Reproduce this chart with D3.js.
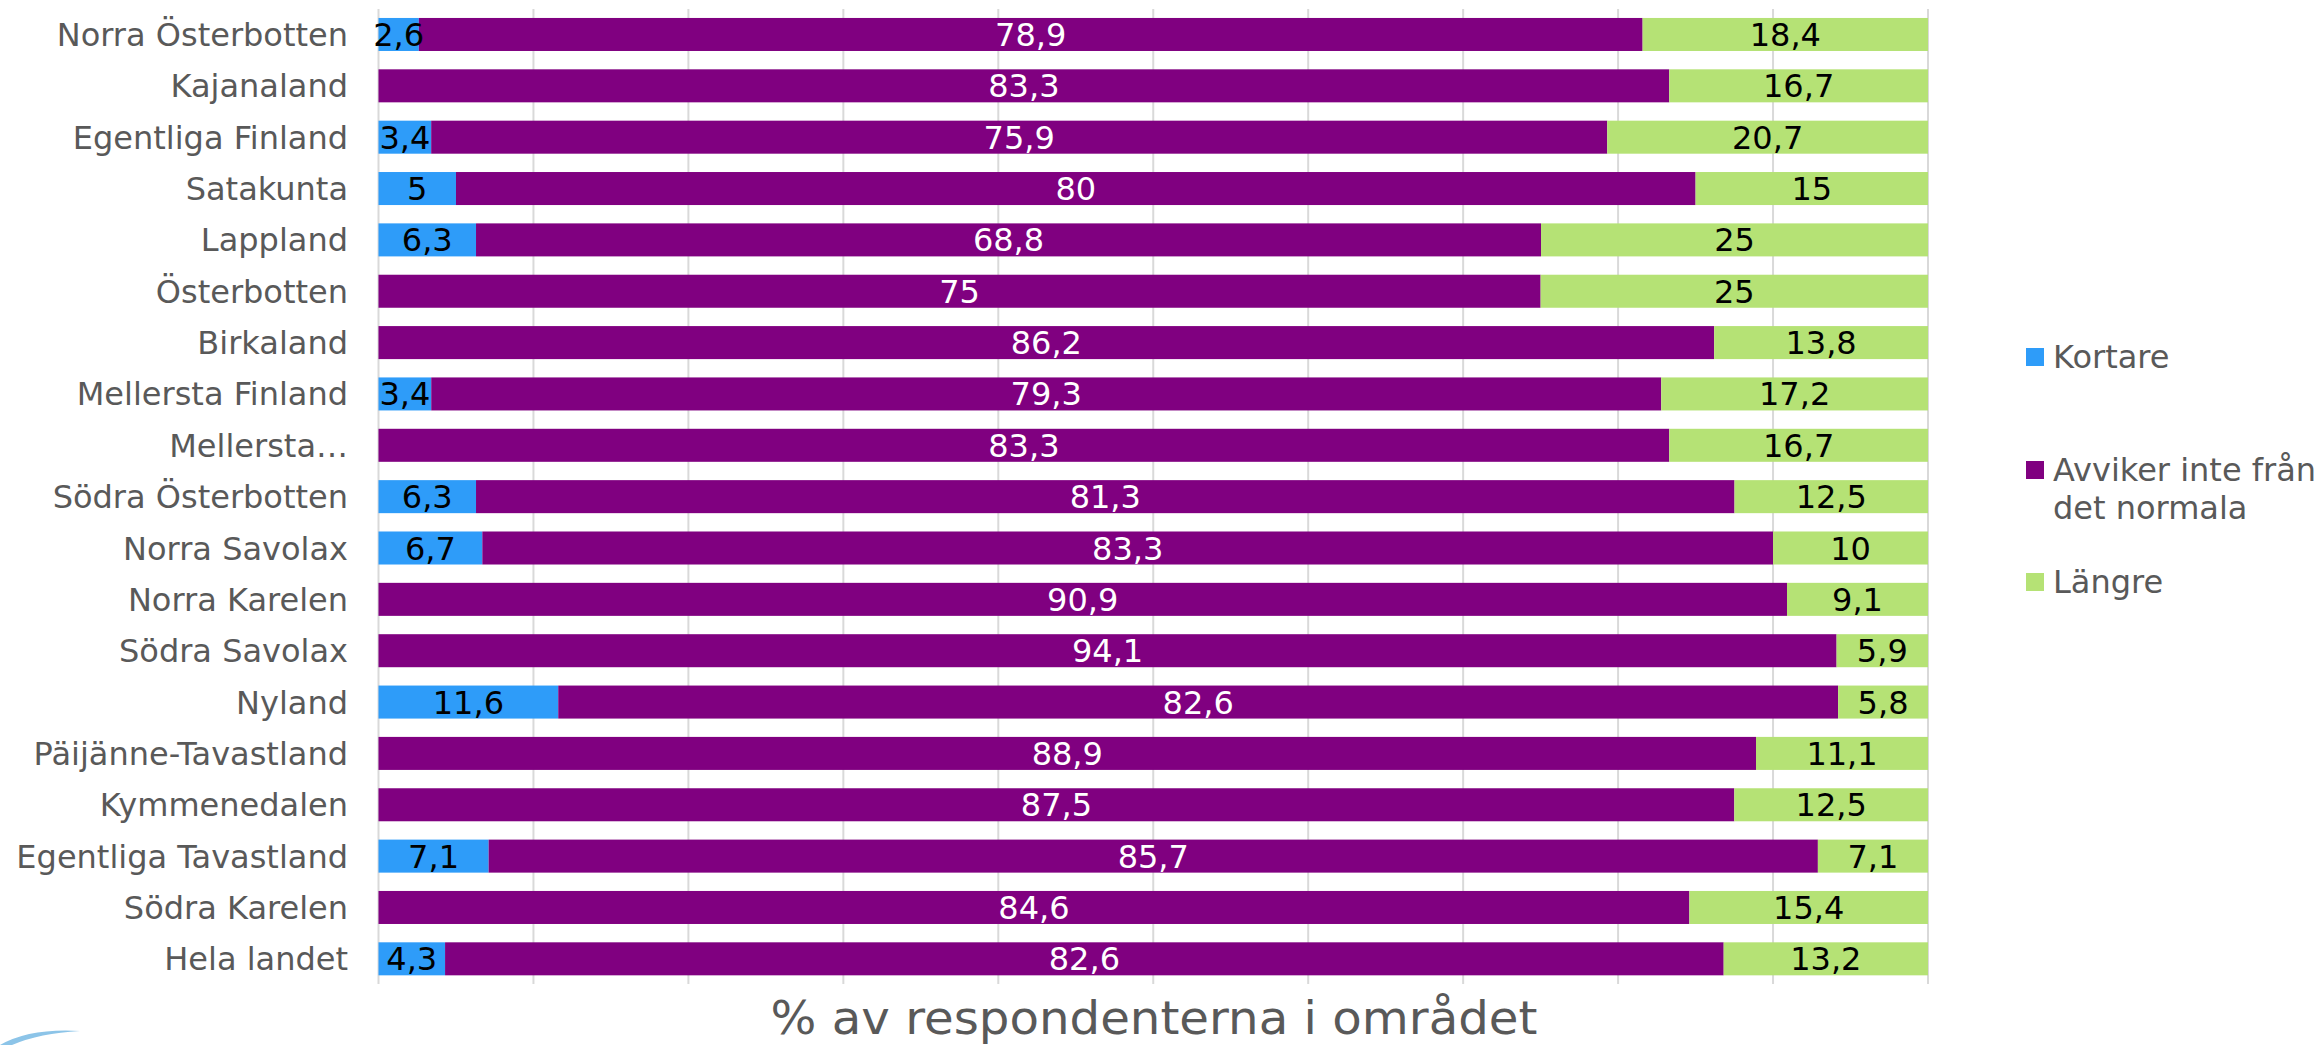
<!DOCTYPE html>
<html><head><meta charset="utf-8">
<script src="https://cdn.jsdelivr.net/npm/d3@7"></script>
<style>html,body{margin:0;padding:0;background:#fff;}svg{display:block;}</style>
</head><body>
<script>
const categories = ["Norra Österbotten","Kajanaland","Egentliga Finland","Satakunta","Lappland","Österbotten","Birkaland","Mellersta Finland","Mellersta…","Södra Österbotten","Norra Savolax","Norra Karelen","Södra Savolax","Nyland","Päijänne-Tavastland","Kymmenedalen","Egentliga Tavastland","Södra Karelen","Hela landet"];
const kortare = [2.6,0,3.4,5,6.3,0,0,3.4,0,6.3,6.7,0,0,11.6,0,0,7.1,0,4.3];
const avviker = [78.9,83.3,75.9,80,68.8,75,86.2,79.3,83.3,81.3,83.3,90.9,94.1,82.6,88.9,87.5,85.7,84.6,82.6];
const langre = [18.4,16.7,20.7,15,25,25,13.8,17.2,16.7,12.5,10,9.1,5.9,5.8,11.1,12.5,7.1,15.4,13.2];
const seriesNames = ["Kortare","Avviker inte från det normala","Längre"];
const xTicks = [0,10,20,30,40,50,60,70,80,90,100];
const axisTitle = "% av respondenterna i området";

const W = 2323, H = 1045;
const colors = ["#2e9cf9","#800080","#b5e275"];
const labelColors = ["#000","#fff","#000"];
const FONT = "'DejaVu Sans', Verdana, sans-serif";
const FS = 32;

const rows = categories.map((c,i)=>({cat:c, s0:kortare[i], s1:avviker[i], s2:langre[i]}));
const keys = ["s0","s1","s2"];
const stack = d3.stack().keys(keys).offset(d3.stackOffsetExpand)(rows);

const x = d3.scaleLinear().domain([0,1]).range([378.5,1928]);
const y = d3.scaleBand().domain(categories).range([8.8,984.5]).paddingInner(0.357).paddingOuter(0.1785);

const svg = d3.select("body").append("svg").attr("width",W).attr("height",H);

// gridlines
svg.append("g").selectAll("line").data(xTicks).join("line")
  .attr("x1",d=>x(d/100)).attr("x2",d=>x(d/100))
  .attr("y1",9).attr("y2",984)
  .attr("stroke","#d9d9d9").attr("stroke-width",2);

// bars
const layers = svg.append("g").selectAll("g").data(stack).join("g")
  .attr("fill",(d,i)=>colors[i]);
layers.selectAll("rect").data(d=>d).join("rect")
  .attr("x",d=>x(d[0])).attr("width",d=>Math.max(0,x(d[1])-x(d[0])))
  .attr("y",d=>y(d.data.cat)).attr("height",y.bandwidth());

// data labels
stack.forEach((layer,li)=>{
  svg.append("g").selectAll("text").data(layer.filter(d=>d.data[keys[li]]>0)).join("text")
    .attr("x",d=>(x(d[0])+x(d[1]))/2)
    .attr("y",d=>y(d.data.cat)+y.bandwidth()/2)
    .attr("dy","0.36em")
    .attr("text-anchor","middle")
    .attr("font-family",FONT).attr("font-size",FS)
    .attr("fill",labelColors[li])
    .text(d=>String(d.data[keys[li]]).replace(".",","));
});

// category labels
svg.append("g").selectAll("text").data(categories).join("text")
  .attr("x",348).attr("y",d=>y(d)+y.bandwidth()/2).attr("dy","0.36em")
  .attr("text-anchor","end").attr("font-family",FONT).attr("font-size",FS)
  .attr("fill","#595959").text(d=>d);

// axis title
svg.append("text").attr("x",1154).attr("y",1034).attr("text-anchor","middle")
  .attr("font-family",FONT).attr("font-size",46).attr("fill","#595959")
  .attr("textLength",767).attr("lengthAdjust","spacingAndGlyphs")
  .text(axisTitle);

// legend
const legY = [357,470,582];
const lg = svg.append("g");
seriesNames.forEach((n,i)=>{
  lg.append("rect").attr("x",2026).attr("y",legY[i]-9).attr("width",18).attr("height",18).attr("fill",colors[i]);
});
lg.append("text").attr("x",2053).attr("y",368).attr("font-family",FONT).attr("font-size",FS).attr("fill","#595959").text("Kortare");
const t2 = lg.append("text").attr("x",2053).attr("y",481).attr("font-family",FONT).attr("font-size",FS).attr("fill","#595959");
t2.append("tspan").attr("x",2053).text("Avviker inte från");
t2.append("tspan").attr("x",2053).attr("y",519).text("det normala");
lg.append("text").attr("x",2053).attr("y",593).attr("font-family",FONT).attr("font-size",FS).attr("fill","#595959").text("Längre");

// partial logo arc at bottom-left
svg.append("path").attr("d","M0,1045 Q30,1028 80,1031 Q40,1033 12,1045 Z").attr("fill","#8cc4e8");
</script>
</body></html>
